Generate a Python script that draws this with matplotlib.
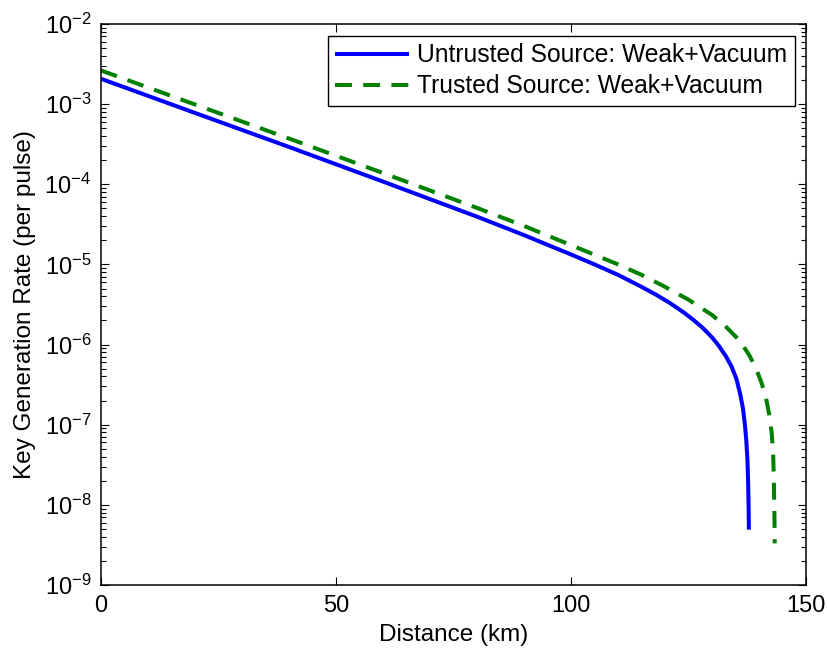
import matplotlib
matplotlib.use("Agg")
import matplotlib.pyplot as plt
from matplotlib.ticker import LogLocator, NullFormatter

plt.rcParams['font.family'] = ['Liberation Sans', 'DejaVu Sans']
plt.rcParams['mathtext.fontset'] = 'custom'
plt.rcParams['mathtext.rm'] = 'Liberation Sans'
plt.rcParams['mathtext.it'] = 'Liberation Sans'
plt.rcParams['mathtext.default'] = 'regular'

# values
dist_untrusted = [0, 20, 40, 60, 80, 90, 100, 105, 110, 115, 118, 121, 124,
                  126, 128, 130, 131.5, 133, 134.2, 135.2, 136.0, 136.6,
                  137.0, 137.3, 137.55, 137.7, 137.8, 137.85]
rate_untrusted = [2.07e-3, 7.76e-4, 2.92e-4, 1.08e-4, 3.94e-5, 2.32e-5,
                  1.33e-5, 1.0e-5, 7.41e-6, 5.25e-6, 4.22e-6, 3.31e-6,
                  2.51e-6, 2.04e-6, 1.62e-6, 1.23e-6, 9.55e-7, 7.08e-7,
                  5.25e-7, 3.72e-7, 2.40e-7, 1.58e-7, 1.0e-7, 6.31e-8,
                  3.55e-8, 1.78e-8, 8.9e-9, 4.9e-9]

dist_trusted = [0, 20, 40, 60, 80, 90, 100, 110, 115, 120, 125, 130, 133,
                136, 138, 139.5, 140.5, 141.5, 142.2, 142.7, 143.0, 143.15,
                143.25, 143.32, 143.35]
rate_trusted = [2.63e-3, 9.89e-4, 3.72e-4, 1.38e-4, 5.07e-5, 3.02e-5,
                1.74e-5, 1.0e-5, 7.41e-6, 5.25e-6, 3.63e-6, 2.34e-6,
                1.66e-6, 1.10e-6, 7.24e-7, 4.79e-7, 3.39e-7, 2.14e-7,
                1.32e-7, 7.94e-8, 4.47e-8, 2.24e-8, 1.0e-8, 5.0e-9, 3.3e-9]

x_ticks = [0, 50, 100, 150]

fig = plt.figure(figsize=(8.27, 6.51), dpi=100)
ax = fig.add_axes([0.1221, 0.1014, 0.8525, 0.8618])

ax.plot(dist_untrusted, rate_untrusted, '-', color=(0, 0, 1), lw=2.9,
        solid_capstyle='butt', label='Untrusted Source: Weak+Vacuum')
ax.plot(dist_trusted, rate_trusted, '--', color=(0, 0.5, 0), lw=2.9,
        dashes=(4.2, 2.8), dash_capstyle='butt',
        label='Trusted Source: Weak+Vacuum')

ax.set_yscale('log')
ax.set_xlim(0, 150)
ax.set_ylim(1e-9, 1e-2)
ax.set_xticks(x_ticks)
ax.yaxis.set_major_locator(LogLocator(base=10, numticks=20))
ax.yaxis.set_minor_locator(LogLocator(base=10, subs=range(2, 10), numticks=20))
ax.yaxis.set_minor_formatter(NullFormatter())

ax.tick_params(which='both', direction='in', top=True, right=True,
               labelsize=17, width=0.8)
ax.tick_params(which='major', length=6, pad=7)
ax.tick_params(which='minor', length=3.5)
for s in ax.spines.values():
    s.set_linewidth(1.1)

ax.set_xlabel('Distance (km)', fontsize=17.5, labelpad=5)
ax.set_ylabel('Key Generation Rate (per pulse)', fontsize=17.5, labelpad=6)

leg = ax.legend(loc='upper right', bbox_to_anchor=(0.9844, 0.9786),
                borderaxespad=0, fontsize=17.7, fancybox=False, framealpha=1,
                edgecolor='black', borderpad=0.3, labelspacing=0.28,
                handlelength=3.0, handletextpad=0.35)
leg.get_frame().set_linewidth(1.0)

plt.savefig('out.png', dpi=100)
